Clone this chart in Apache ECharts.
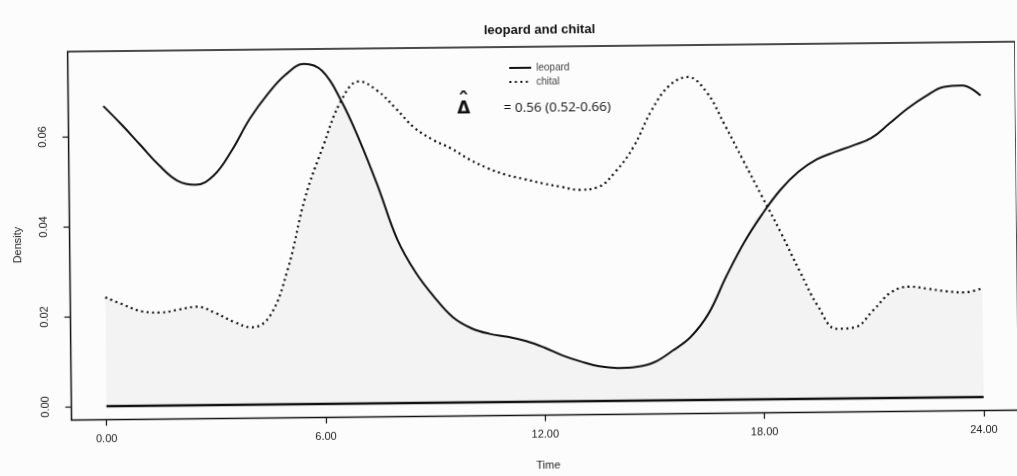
<!DOCTYPE html>
<html>
<head>
<meta charset="utf-8">
<script src="https://cdn.jsdelivr.net/npm/echarts@6/dist/echarts.min.js"></script>
<style>
  html, body { margin: 0; padding: 0; background: #fcfcfc; overflow: hidden; }
  #chart { width: 1017px; height: 476px; transform: rotate(-0.6deg); transform-origin: 508px 238px; }
</style>
</head>
<body>
<div id="chart"></div>
<script>
// Time of day (hours) at which the two kernel density curves were read
const hours = [0,0.5,1,1.5,2,2.5,3,3.5,4,4.5,5,5.5,6,6.5,7,7.5,8,8.5,9,9.5,10,10.5,11,11.5,12,
               12.5,13,13.5,14,14.5,15,15.5,16,16.5,17,17.5,18,18.5,19,19.5,20,20.5,21,21.5,22,22.5,23,23.5,24];
// Leopard activity density (solid line)
const leopard = [0.0667,0.0625,0.0580,0.0535,0.0500,0.0490,0.0510,0.0565,0.0635,0.0690,0.0733,0.0756,0.0740,
                 0.0675,0.0585,0.0480,0.0365,0.0290,0.0235,0.0190,0.0165,0.0152,0.0145,0.0135,0.0120,
                 0.0102,0.0088,0.0077,0.0073,0.0075,0.0085,0.0110,0.0140,0.0192,0.0275,0.0350,0.0412,
                 0.0465,0.0505,0.0532,0.0548,0.0562,0.0578,0.0610,0.0643,0.0670,0.0690,0.0693,0.0670];
// Chital activity density (dotted line)
const chital = [0.0242,0.0225,0.0210,0.0207,0.0213,0.0219,0.0205,0.0185,0.0172,0.0197,0.0300,0.0460,0.0572,
                0.0672,0.0716,0.0695,0.0655,0.0612,0.0585,0.0565,0.0540,0.0520,0.0505,0.0495,0.0485,
                0.0477,0.0470,0.0475,0.0510,0.0565,0.0645,0.0700,0.0718,0.0685,0.0610,0.0530,0.0450,
                0.0370,0.0285,0.0205,0.0155,0.0158,0.0195,0.0235,0.0247,0.0242,0.0236,0.0233,0.0242];
const xTickValues = [0, 6, 12, 18, 24];
const xTickLabels = ['0.00', '6.00', '12.00', '18.00', '24.00'];
const yTickValues = [0, 0.02, 0.04, 0.06];
const yTickLabels = ['0.00', '0.02', '0.04', '0.06'];
const seriesNames = ['leopard', 'chital'];
const overlapText = '= 0.56 (0.52-0.66)';

const toPairs = arr => hours.map((h, i) => [h, arr[i]]);
const overlap = hours.map((h, i) => [h, Math.min(leopard[i], chital[i])]);
const baseline = [[hours[0], 0], [hours[hours.length - 1], 0]];

const chart = echarts.init(document.getElementById('chart'), null, { renderer: 'canvas' });
const font = 'Liberation Sans, Arial, sans-serif';
chart.setOption({
  animation: false,
  backgroundColor: 'transparent',
  textStyle: { fontFamily: font },
  title: {
    text: 'leopard and chital',
    left: 481, top: 19,
    textStyle: { fontSize: 13, fontWeight: 'bold', color: '#111', fontFamily: font }
  },
  legend: {
    data: seriesNames,
    orient: 'vertical',
    left: 505, top: 58,
    itemWidth: 22, itemHeight: 8, itemGap: 4,
    itemStyle: { opacity: 0 },
    textStyle: { fontSize: 10, color: '#444', fontFamily: font }
  },
  grid: {
    left: 69.6, top: 47, width: 956.5, height: 368.5,
    show: true, borderColor: '#111', borderWidth: 1.5, backgroundColor: 'transparent'
  },
  xAxis: {
    type: 'value', min: -0.96, max: 24.96,
    axisLine: { show: false, onZero: false },
    splitLine: { show: false },
    axisTick: { show: true, customValues: xTickValues, length: 6, lineStyle: { color: '#111', width: 1.2 } },
    axisLabel: {
      customValues: xTickValues, margin: 14, fontSize: 11, color: '#222', fontFamily: font,
      formatter: v => xTickLabels[xTickValues.indexOf(v)]
    }
  },
  yAxis: {
    type: 'value', min: -0.003, max: 0.0789,
    axisLine: { show: false, onZero: false },
    splitLine: { show: false },
    axisTick: { show: true, customValues: yTickValues, length: 6, lineStyle: { color: '#111', width: 1.2 } },
    axisLabel: {
      customValues: yTickValues, rotate: 90, margin: 20, fontSize: 11, color: '#222', fontFamily: font,
      formatter: v => yTickLabels[yTickValues.indexOf(v)]
    }
  },
  graphic: [
    { type: 'text', x: 18, y: 240, rotation: Math.PI / 2,
      style: { text: 'Density', font: '11px ' + font, fill: '#222', align: 'center', verticalAlign: 'middle' } },
    { type: 'text', x: 546, y: 466,
      style: { text: 'Time', font: '11px ' + font, fill: '#222', align: 'center', verticalAlign: 'middle' } },
    { type: 'text', x: 465, y: 109,
      style: { text: 'Δ', font: 'bold 17px DejaVu Sans, sans-serif', fill: '#111', align: 'center', verticalAlign: 'middle' } },
    { type: 'text', x: 465, y: 101,
      style: { text: 'ˆ', font: 'bold 22px DejaVu Sans, sans-serif', fill: '#111', align: 'center', verticalAlign: 'middle' } },
    { type: 'text', x: 505, y: 108,
      style: { text: overlapText, font: '13.5px Open Sans, Liberation Sans, sans-serif', fill: '#111', align: 'left', verticalAlign: 'middle' } }
  ],
  series: [
    {
      name: 'overlap', type: 'line', data: overlap, smooth: 0.4, symbol: 'none', silent: true, z: 1,
      lineStyle: { width: 0 }, areaStyle: { color: 'rgba(0,0,0,0.05)' }
    },
    {
      name: 'baseline', type: 'line', data: baseline, symbol: 'none', silent: true, z: 2,
      lineStyle: { color: '#111', width: 2.5 }
    },
    {
      name: seriesNames[0], type: 'line', data: toPairs(leopard), smooth: 0.4, symbol: 'none', z: 3,
      lineStyle: { color: '#111', width: 2 }, itemStyle: { color: '#111' }
    },
    {
      name: seriesNames[1], type: 'line', data: toPairs(chital), smooth: 0.4, symbol: 'none', z: 3,
      lineStyle: { color: '#111', width: 2.2, type: [2, 3.5] }, itemStyle: { color: '#111' }
    }
  ]
});
</script>
</body>
</html>
